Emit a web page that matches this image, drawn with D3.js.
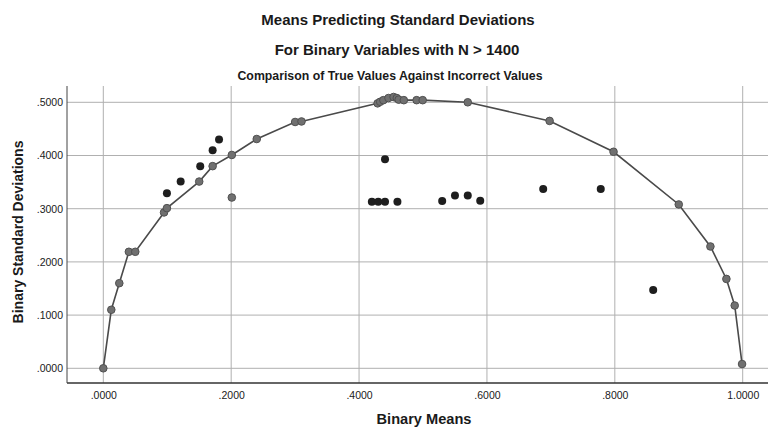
<!DOCTYPE html>
<html><head><meta charset="utf-8">
<script src="https://cdn.jsdelivr.net/npm/d3@7"></script>
<style>
html,body{margin:0;padding:0;background:#fff;}
svg{display:block;}
text{font-family:"Liberation Sans",Arial,sans-serif;fill:#1a1a1a;}
</style></head>
<body><svg id="chart" width="768" height="428"></svg>
<script>
// True values (on the curve)
const trueMeans = [0.000, 0.0125, 0.025, 0.040, 0.050, 0.095, 0.0995, 0.150, 0.171, 0.201, 0.240, 0.300, 0.310,
  0.429, 0.433, 0.438, 0.446, 0.454, 0.459, 0.462, 0.470, 0.490, 0.4995, 0.570, 0.698, 0.798, 0.900, 0.9495, 0.9745, 0.9875, 0.999];
const trueSDs = [0.000, 0.110, 0.160, 0.219, 0.219, 0.293, 0.301, 0.351, 0.380, 0.401, 0.431, 0.463, 0.464,
  0.498, 0.501, 0.504, 0.508, 0.510, 0.508, 0.505, 0.504, 0.504, 0.504, 0.500, 0.465, 0.407, 0.308, 0.229, 0.168, 0.118, 0.008];
// Gray point off the curve
const offMeans = [0.201];
const offSDs = [0.321];
// Incorrect values
const wrongMeans = [0.0995, 0.121, 0.1516, 0.171, 0.181, 0.4406, 0.420, 0.430, 0.4406, 0.460, 0.530, 0.550, 0.570, 0.5895, 0.688, 0.778, 0.860];
const wrongSDs = [0.329, 0.351, 0.380, 0.410, 0.430, 0.393, 0.313, 0.313, 0.313, 0.313, 0.3145, 0.325, 0.325, 0.315, 0.337, 0.337, 0.147];
const xTicks = [0, 0.2, 0.4, 0.6, 0.8, 1.0];
const yTicks = [0, 0.1, 0.2, 0.3, 0.4, 0.5];
const titles = ["Means Predicting Standard Deviations", "For Binary Variables with N > 1400"];
const subtitle = "Comparison of True Values Against Incorrect Values";
const xTitle = "Binary Means";
const yTitle = "Binary Standard Deviations";

const svg = d3.select("#chart");
const plotL = 67, plotR = 770, plotT = 86, plotB = 383;
const x = d3.scaleLinear().domain([0, 1]).range([103.3, 742.7]);
const y = d3.scaleLinear().domain([0, 0.5]).range([368.3, 102.3]);
const fmt = d => (d >= 1 ? d3.format(".4f")(d) : d3.format(".4f")(d).replace(/^0/, ""));

// gridlines
const g = svg.append("g");
g.selectAll("line.gx").data(xTicks).join("line")
  .attr("x1", d => x(d)).attr("x2", d => x(d)).attr("y1", plotT).attr("y2", plotB)
  .attr("stroke", "#b0b0b0").attr("stroke-width", 1);
g.selectAll("line.gy").data(yTicks).join("line")
  .attr("x1", plotL).attr("x2", plotR).attr("y1", d => y(d)).attr("y2", d => y(d))
  .attr("stroke", "#b0b0b0").attr("stroke-width", 1);

// axes
const xAxis = svg.append("g").attr("transform", `translate(0,${plotB})`)
  .call(d3.axisBottom(x).tickValues(xTicks).tickFormat(fmt).tickSize(0).tickPadding(9));
xAxis.select(".domain").attr("d", `M${plotL},0H${plotR}`).attr("stroke", "#333").attr("stroke-width", 1.3);
xAxis.selectAll("text").attr("font-size", 10.5).attr("fill", "#222");

const yAxis = svg.append("g").attr("transform", `translate(${plotL},0)`)
  .call(d3.axisLeft(y).tickValues(yTicks).tickFormat(fmt).tickSize(0).tickPadding(4));
yAxis.select(".domain").attr("d", `M0,${plotT}V${plotB}`).attr("stroke", "#444").attr("stroke-width", 1);
yAxis.selectAll("text").attr("font-size", 10.5).attr("fill", "#222");

// curve through true values
const pts = trueMeans.map((m, i) => [m, trueSDs[i]]).sort((a, b) => a[0] - b[0]);
svg.append("path").datum(pts)
  .attr("d", d3.line().x(d => x(d[0])).y(d => y(d[1])).curve(d3.curveLinear))
  .attr("fill", "none").attr("stroke", "#4a4a4a").attr("stroke-width", 1.6);

// true points
svg.append("g").selectAll("circle").data(pts).join("circle")
  .attr("cx", d => x(d[0])).attr("cy", d => y(d[1])).attr("r", 3.8)
  .attr("fill", "#707070").attr("stroke", "#505050").attr("stroke-width", 1);
svg.append("g").selectAll("circle").data(offMeans.map((m, i) => [m, offSDs[i]])).join("circle")
  .attr("cx", d => x(d[0])).attr("cy", d => y(d[1])).attr("r", 3.8)
  .attr("fill", "#707070").attr("stroke", "#505050").attr("stroke-width", 1);
// incorrect points
svg.append("g").selectAll("circle").data(wrongMeans.map((m, i) => [m, wrongSDs[i]])).join("circle")
  .attr("cx", d => x(d[0])).attr("cy", d => y(d[1])).attr("r", 4)
  .attr("fill", "#1e1e1e");

// titles
svg.append("text").attr("x", 398).attr("y", 25).attr("text-anchor", "middle")
  .attr("font-size", 15).attr("font-weight", "bold").text(titles[0]);
svg.append("text").attr("x", 397).attr("y", 55).attr("text-anchor", "middle")
  .attr("font-size", 15).attr("font-weight", "bold").text(titles[1]);
svg.append("text").attr("x", 390).attr("y", 80).attr("text-anchor", "middle")
  .attr("font-size", 12.3).attr("font-weight", "bold").text(subtitle);
svg.append("text").attr("x", 424).attr("y", 424).attr("text-anchor", "middle")
  .attr("font-size", 14.6).attr("font-weight", "bold").text(xTitle);
svg.append("text").attr("transform", "translate(23,232) rotate(-90)").attr("text-anchor", "middle")
  .attr("font-size", 14).attr("font-weight", "bold").text(yTitle);
</script></body></html>
